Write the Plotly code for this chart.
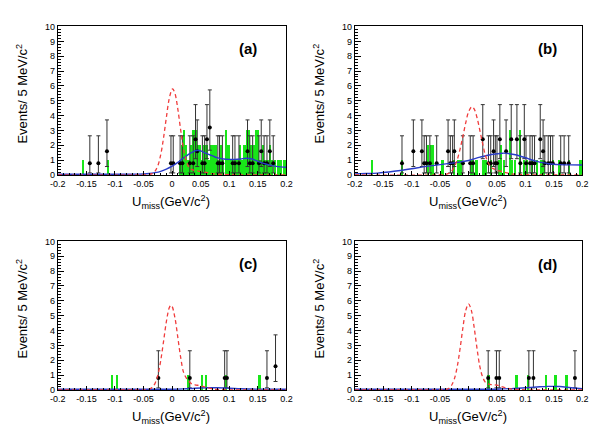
import plotly.graph_objects as go

W, H = 603, 436

# ---------------- data ----------------
# Poisson-like error bounds (lower, upper), keyed by point value
ERR_BOUNDS = {0.8: (0.14, 2.64), 1.6: (0.57, 3.71), 2.4: (1.10, 4.74), 3.2: (1.67, 5.73)}

# panel (a)
a_pts_x = [-0.144, -0.129, -0.114, -0.002, 0.002, 0.014, 0.018, 0.031, 0.037, 0.041, 0.044,
           0.053, 0.057, 0.061, 0.066, 0.080, 0.083, 0.088, 0.106, 0.110, 0.117, 0.132,
           0.136, 0.141, 0.152, 0.156, 0.161, 0.166, 0.171, 0.177]
a_pts_y = [0.8, 0.8, 1.6, 0.8, 0.8, 0.8, 0.8, 0.8, 0.8, 2.4, 1.6,
           0.8, 0.8, 2.4, 3.2, 0.8, 0.8, 0.8, 0.8, 0.8, 0.8, 1.6,
           0.8, 0.8, 0.8, 1.6, 0.8, 0.8, 1.6, 0.8]
a_grn_x = [-0.156, -0.112, 0.014, 0.018, 0.021, 0.025, 0.029, 0.033, 0.037, 0.041, 0.045,
           0.049, 0.053, 0.057, 0.061, 0.065, 0.069, 0.073, 0.077, 0.081, 0.085, 0.089,
           0.095, 0.099, 0.103, 0.107, 0.111, 0.115, 0.119, 0.123, 0.127, 0.131, 0.135,
           0.139, 0.143, 0.147, 0.151, 0.155, 0.159, 0.163, 0.167, 0.171, 0.175, 0.180,
           0.186, 0.190, 0.196, 0.200]
a_grn_y = [1, 1, 1, 2, 3, 2, 1, 2, 3, 3, 2,
           2, 1, 2, 2, 1, 2, 2, 2, 1, 2, 1,
           3, 2, 1, 1, 1, 1, 2, 1, 2, 3, 3,
           2, 2, 3, 3, 1, 2, 1, 1, 2, 1, 1,
           1, 1, 1, 1]
a_sig_x = [-0.2, -0.06, -0.05, -0.045, -0.04, -0.035, -0.03, -0.025, -0.02, -0.015, -0.01,
           -0.005, 0.0, 0.001, 0.005, 0.01, 0.015, 0.02, 0.025, 0.03, 0.035, 0.04, 0.05,
           0.06, 0.07, 0.08, 0.1, 0.2]
a_sig_y = [0.0, 0.0, 0.01, 0.02, 0.04, 0.09, 0.25, 0.62, 1.35, 2.49, 3.89,
           5.15, 5.78, 5.8, 5.5, 4.44, 3.04, 1.78, 0.92, 0.5, 0.36, 0.3, 0.24,
           0.17, 0.1, 0.05, 0.02, 0.0]
a_fit_x = [-0.2, -0.1, -0.06, -0.05, -0.04, -0.03, -0.02, -0.01, 0.0, 0.01, 0.02, 0.03,
           0.04, 0.045, 0.05, 0.06, 0.07, 0.08, 0.09, 0.1, 0.11, 0.12, 0.13, 0.14, 0.15,
           0.16, 0.17, 0.18, 0.19, 0.2]
a_fit_y = [0.05, 0.05, 0.06, 0.07, 0.1, 0.16, 0.25, 0.4, 0.6, 0.85, 1.15, 1.42,
           1.62, 1.67, 1.62, 1.45, 1.3, 1.15, 1.08, 1.05, 1.05, 1.08, 1.13, 1.08, 0.92,
           0.78, 0.68, 0.6, 0.55, 0.52]

# panel (b)
b_pts_x = [-0.117, -0.097, -0.082, -0.078, -0.074, -0.068, -0.056, -0.036, -0.032, -0.028,
           -0.025, -0.010, 0.003, 0.008, 0.025, 0.035, 0.039, 0.044, 0.047, 0.050, 0.055,
           0.066, 0.075, 0.085, 0.091, 0.098, 0.101, 0.108, 0.112, 0.116, 0.126, 0.131,
           0.134, 0.140, 0.144, 0.148, 0.162, 0.168, 0.176]
b_pts_y = [0.8, 1.6, 1.6, 0.8, 0.8, 0.8, 0.8, 1.6, 0.8, 0.8,
           1.6, 0.8, 0.8, 0.8, 2.4, 0.8, 0.8, 1.6, 0.8, 0.8, 2.4,
           1.6, 2.4, 2.4, 0.8, 2.4, 0.8, 0.8, 0.8, 0.8, 2.4, 1.6,
           0.8, 0.8, 0.8, 0.8, 0.8, 0.8, 0.8]
b_grn_x = [-0.170, -0.117, -0.071, -0.066, -0.062, -0.046, -0.025, -0.019, -0.014, 0.004,
           0.008, 0.014, 0.025, 0.030, 0.040, 0.053, 0.057, 0.062, 0.073, 0.076, 0.082,
           0.091, 0.098, 0.103, 0.112, 0.120, 0.128, 0.132, 0.148, 0.160, 0.176, 0.197]
b_grn_y = [1, 1, 2, 2, 2, 1, 1, 1, 1, 1,
           1, 1, 1, 1, 1, 1, 2, 1, 3, 1, 1,
           3, 1, 1, 1, 1, 1, 1, 1, 1, 1, 1]
b_sig_x = [-0.2, -0.06, -0.05, -0.04, -0.035, -0.03, -0.025, -0.02, -0.015, -0.01, -0.005,
           0.0, 0.006, 0.01, 0.015, 0.02, 0.025, 0.03, 0.035, 0.04, 0.045, 0.05, 0.06,
           0.07, 0.08, 0.1, 0.2]
b_sig_y = [0.0, 0.0, 0.01, 0.04, 0.11, 0.26, 0.54, 1.02, 1.73, 2.6, 3.51,
           4.25, 4.6, 4.44, 3.84, 2.98, 2.06, 1.28, 0.8, 0.5, 0.4, 0.32, 0.22,
           0.12, 0.06, 0.02, 0.0]
b_fit_x = [-0.2, -0.18, -0.16, -0.14, -0.12, -0.1, -0.08, -0.06, -0.04, -0.02, 0.0, 0.02,
           0.04, 0.06, 0.07, 0.08, 0.09, 0.1, 0.11, 0.12, 0.13, 0.14, 0.15, 0.16, 0.18, 0.2]
b_fit_y = [0.08, 0.1, 0.13, 0.2, 0.3, 0.42, 0.55, 0.65, 0.75, 0.85, 0.98, 1.2,
           1.38, 1.47, 1.45, 1.38, 1.28, 1.16, 1.03, 0.92, 0.83, 0.76, 0.72, 0.7, 0.68, 0.67]

# panel (c)
c_pts_x = [-0.024, 0.031, 0.092, 0.096, 0.166, 0.181]
c_pts_y = [0.8, 0.8, 0.8, 0.8, 0.8, 1.6]
c_grn_x = [-0.105, -0.096, 0.029, 0.053, 0.060, 0.094, 0.153]
c_grn_y = [1, 1, 1, 1, 1, 1, 1]
c_sig_x = [-0.2, -0.06, -0.045, -0.04, -0.035, -0.03, -0.025, -0.02, -0.015, -0.01, -0.005,
           -0.002, 0.0, 0.005, 0.01, 0.015, 0.02, 0.025, 0.03, 0.035, 0.04, 0.05, 0.06,
           0.07, 0.08, 0.1, 0.2]
c_sig_y = [0.0, 0.0, 0.01, 0.05, 0.16, 0.43, 0.99, 1.96, 3.26, 4.61, 5.53,
           5.7, 5.63, 4.85, 3.54, 2.19, 1.2, 0.8, 0.55, 0.4, 0.35, 0.28, 0.18,
           0.08, 0.03, 0.01, 0.0]
c_fit_x = [-0.2, 0.0, 0.02, 0.04, 0.06, 0.08, 0.1, 0.12, 0.14, 0.2]
c_fit_y = [0.05, 0.05, 0.07, 0.12, 0.15, 0.15, 0.12, 0.08, 0.06, 0.05]

# panel (d)
d_pts_x = [0.0345, 0.049, 0.054, 0.106, 0.114, 0.187]
d_pts_y = [0.8, 0.8, 0.8, 0.8, 0.8, 0.8]
d_grn_x = [0.035, 0.0845, 0.105, 0.136, 0.153, 0.172]
d_grn_y = [1, 1, 1, 1, 1, 1]
d_sig_x = [-0.2, -0.06, -0.045, -0.04, -0.035, -0.03, -0.025, -0.02, -0.015, -0.01, -0.005,
           0.0, 0.005, 0.01, 0.015, 0.02, 0.025, 0.03, 0.035, 0.04, 0.05, 0.06, 0.07,
           0.08, 0.1, 0.2]
d_sig_y = [0.0, 0.0, 0.01, 0.03, 0.1, 0.3, 0.74, 1.55, 2.76, 4.17, 5.34,
           5.8, 5.34, 4.17, 2.76, 1.55, 0.85, 0.5, 0.4, 0.36, 0.33, 0.2, 0.1,
           0.04, 0.01, 0.0]
d_fit_x = [-0.2, 0.04, 0.06, 0.08, 0.1, 0.12, 0.14, 0.16, 0.18, 0.2]
d_fit_y = [0.05, 0.05, 0.07, 0.1, 0.15, 0.2, 0.24, 0.23, 0.15, 0.08]

panel_labels = ["(a)", "(b)", "(c)", "(d)"]
x_tick_vals = [-0.2, -0.15, -0.1, -0.05, 0.0, 0.05, 0.1, 0.15, 0.2]
x_tick_text = ["-0.2", "-0.15", "-0.1", "-0.05", "0", "0.05", "0.1", "0.15", "0.2"]
y_tick_vals = list(range(0, 11))
x_title = "U<sub>miss</sub>(GeV/c<sup>2</sup>)"
y_title = "Events/ 5 MeV/c<sup>2</sup>"

panels = [
    (a_pts_x, a_pts_y, a_grn_x, a_grn_y, a_sig_x, a_sig_y, a_fit_x, a_fit_y),
    (b_pts_x, b_pts_y, b_grn_x, b_grn_y, b_sig_x, b_sig_y, b_fit_x, b_fit_y),
    (c_pts_x, c_pts_y, c_grn_x, c_grn_y, c_sig_x, c_sig_y, c_fit_x, c_fit_y),
    (d_pts_x, d_pts_y, d_grn_x, d_grn_y, d_sig_x, d_sig_y, d_fit_x, d_fit_y),
]

# ---------------- layout geometry (pixels) ----------------
FONT = "Liberation Sans, Arial, Helvetica, sans-serif"
px_x = [(51, 285), (355, 588), (51, 285), (355, 588)]
px_y = [(22, 174), (22, 174), (242, 394), (242, 394)]


def fx(p):
    return p / W


def fy(p):
    return 1 - p / H


fig = go.Figure()
GREEN = "#19e619"
RED = "#f03c3c"
BLUE = "#2a3cc8"

for i, (px, py, gx, gy, sx, sy, bx, by) in enumerate(panels):
    n = i + 1
    xa = "x" if n == 1 else f"x{n}"
    ya = "y" if n == 1 else f"y{n}"
    fig.add_trace(go.Bar(x=gx, y=gy, width=0.0032, marker=dict(color=GREEN, line=dict(width=0)),
                         xaxis=xa, yaxis=ya, showlegend=False))
    eplus = [ERR_BOUNDS[v][1] - v for v in py]
    eminus = [v - ERR_BOUNDS[v][0] for v in py]
    fig.add_trace(go.Scatter(x=px, y=py, mode="markers",
                             marker=dict(color="black", size=4),
                             error_y=dict(type="data", symmetric=False, array=eplus,
                                          arrayminus=eminus, color="#333333",
                                          thickness=1, width=2),
                             xaxis=xa, yaxis=ya, showlegend=False))
    fig.add_trace(go.Scatter(x=bx, y=by, mode="lines", line=dict(color=BLUE, width=1.4, shape="spline"),
                             xaxis=xa, yaxis=ya, showlegend=False))
    fig.add_trace(go.Scatter(x=sx, y=sy, mode="lines",
                             line=dict(color=RED, width=1.3, dash="4px,3px", shape="spline"),
                             xaxis=xa, yaxis=ya, showlegend=False))

    axis_common = dict(showline=True, linecolor="black", linewidth=1, mirror=True,
                       showgrid=False, zeroline=False, ticks="inside", tickcolor="black",
                       tickfont=dict(family=FONT, size=9, color="black"))
    xkey = "xaxis" if n == 1 else f"xaxis{n}"
    ykey = "yaxis" if n == 1 else f"yaxis{n}"
    fig.update_layout({
        xkey: dict(axis_common, domain=[fx(px_x[i][0]), fx(px_x[i][1])], range=[-0.2, 0.2],
                   anchor=ya, tickvals=x_tick_vals, ticktext=x_tick_text, ticklen=4,
                   minor=dict(ticks="inside", dtick=0.01, tick0=0, ticklen=2, tickcolor="black")),
        ykey: dict(axis_common, domain=[fy(px_y[i][1]), fy(px_y[i][0])], range=[0, 10],
                   anchor=xa, tickvals=y_tick_vals, ticklen=6,
                   minor=dict(ticks="inside", dtick=0.2, tick0=0, ticklen=3, tickcolor="black")),
    })

annotations = []
lab_pos = [(246, 45), (552, 45), (246, 265), (552, 266)]
xt_pos = [(167, 202), (471, 202), (167, 422), (471, 422)]
yt_pos = [(14, 91), (318, 91), (14, 311), (318, 311)]
for i in range(4):
    annotations.append(dict(text=f"<b>{panel_labels[i]}</b>", x=fx(lab_pos[i][0]), y=fy(lab_pos[i][1]),
                            xref="paper", yref="paper", showarrow=False, xanchor="center", yanchor="middle",
                            font=dict(family=FONT, size=15, color="black")))
    annotations.append(dict(text=x_title, x=fx(xt_pos[i][0]), y=fy(xt_pos[i][1]),
                            xref="paper", yref="paper", showarrow=False, xanchor="center", yanchor="middle",
                            font=dict(family=FONT, size=13, color="black")))
    annotations.append(dict(text=y_title, x=fx(yt_pos[i][0]), y=fy(yt_pos[i][1]), textangle=-90,
                            xref="paper", yref="paper", showarrow=False, xanchor="center", yanchor="middle",
                            font=dict(family=FONT, size=13, color="black")))

fig.update_layout(width=W, height=H, margin=dict(l=0, r=0, t=0, b=0),
                  paper_bgcolor="white", plot_bgcolor="white", annotations=annotations,
                  barmode="overlay", bargap=0)

fig.write_html("out.html")
